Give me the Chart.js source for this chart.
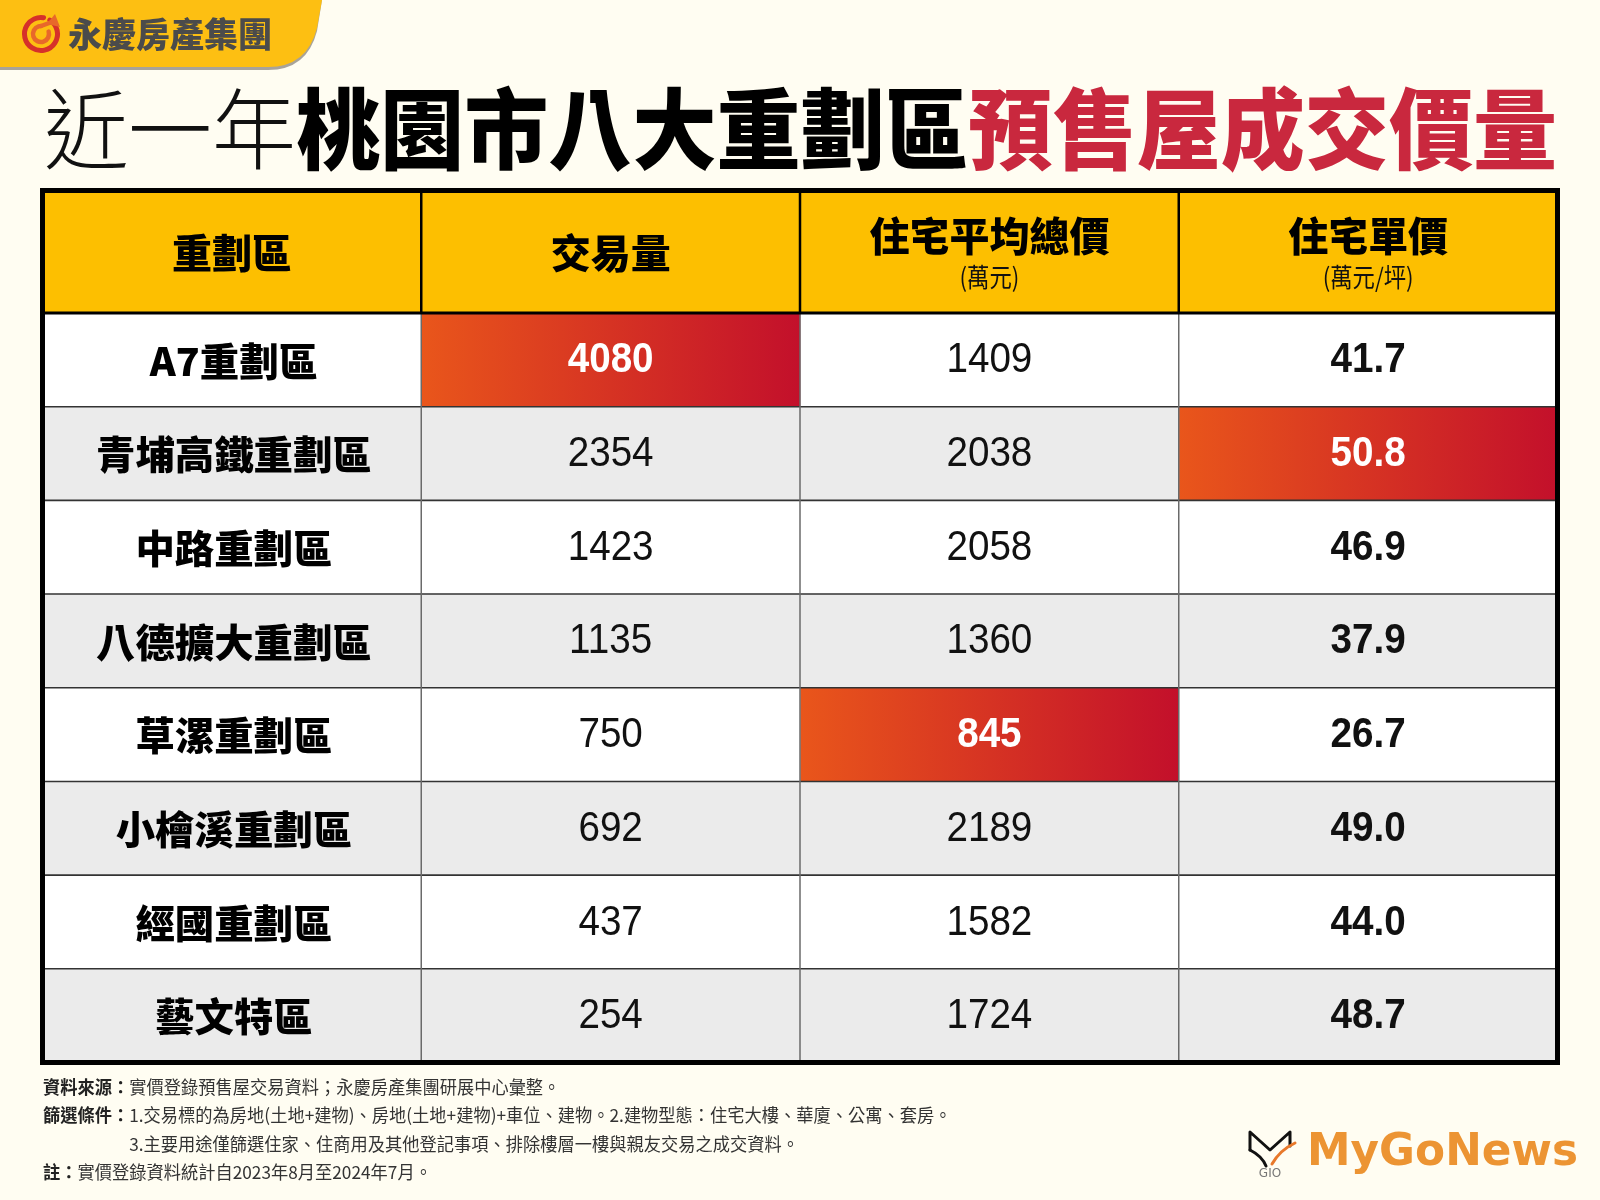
<!DOCTYPE html>
<html>
<head>
<meta charset="utf-8">
<script src="https://cdn.jsdelivr.net/npm/chart.js@4.4.1/dist/chart.umd.min.js"></script>
<style>
  html, body { margin: 0; padding: 0; background: #FFFDF2; }
  #wrap { width: 1600px; height: 1200px; position: relative; }
  canvas { display: block; }
</style>
</head>
<body>
<div id="wrap"><canvas id="c" width="1600" height="1200"></canvas></div>
<script>
// ---------- DATA ----------
const districts = ['A7重劃區', '青埔高鐵重劃區', '中路重劃區', '八德擴大重劃區', '草漯重劃區', '小檜溪重劃區', '經國重劃區', '藝文特區'];
const volume = [4080, 2354, 1423, 1135, 750, 692, 437, 254];
const avgTotalPrice = [1409, 2038, 2058, 1360, 845, 2189, 1582, 1724];
const unitPrice = [41.7, 50.8, 46.9, 37.9, 26.7, 49.0, 44.0, 48.7];
const columnHeaders = ['重劃區', '交易量', '住宅平均總價', '住宅單價'];
const columnUnits = ['', '', '(萬元)', '(萬元/坪)'];
const titleParts = ['近一年', '桃園市八大重劃區', '預售屋成交價量'];
const brandName = '永慶房產集團';
const footnotes = [
  ['資料來源：', '實價登錄預售屋交易資料；永慶房產集團研展中心彙整。'],
  ['篩選條件：', '1.交易標的為房地(土地+建物)、房地(土地+建物)+車位、建物。2.建物型態：住宅大樓、華廈、公寓、套房。'],
  ['', '3.主要用途僅篩選住家、住商用及其他登記事項、排除樓層一樓與親友交易之成交資料。'],
  ['註：', '實價登錄資料統計自2023年8月至2024年7月。']
];
const sourceLogo = 'MyGoNews';

// ---------- DERIVED ----------
const columns = [districts, volume, avgTotalPrice, unitPrice];
const argMax = a => a.indexOf(Math.max(...a));
const argMin = a => a.indexOf(Math.min(...a));
const highlightRows = [-1, argMax(volume), argMin(avgTotalPrice), argMax(unitPrice)];
const formatCell = (c, v) => c === 0 ? v : (c === 3 ? Number(v).toFixed(1) : String(v));

const CJK = '"Noto Sans CJK TC", "Noto Sans CJK SC", sans-serif';
const NUM = '"Liberation Sans", Arial, sans-serif';

function drawText(ctx, text, x, y, font, color, sx, align) {
  ctx.save();
  ctx.font = font;
  ctx.fillStyle = color;
  ctx.textAlign = align || 'center';
  ctx.textBaseline = 'middle';
  ctx.translate(x, y);
  ctx.scale(sx || 1, 1);
  ctx.fillText(text, 0, 0);
  ctx.restore();
}

const decorPlugin = {
  id: 'decor',
  beforeDraw(chart) {
    const ctx = chart.ctx;
    ctx.save();
    ctx.fillStyle = '#FFFDF2';
    ctx.fillRect(0, 0, chart.width, chart.height);

    // banner shadow + banner
    const banner = (dy) => {
      ctx.beginPath();
      ctx.moveTo(0, 0);
      ctx.lineTo(322, 0);
      ctx.lineTo(317, 28 + dy);
      ctx.quadraticCurveTo(307, 67 + dy, 268, 67 + dy);
      ctx.lineTo(0, 67 + dy);
      ctx.closePath();
    };
    ctx.fillStyle = '#A8A39A';
    banner(3); ctx.fill();
    ctx.fillStyle = '#FDBF12';
    banner(0); ctx.fill();

    // brand icon
    ctx.lineCap = 'round';
    ctx.strokeStyle = '#D6302A';
    ctx.lineWidth = 5;
    ctx.beginPath();
    ctx.arc(41, 34, 16.5, -Math.PI * 0.32, Math.PI * 1.55);
    ctx.stroke();
    ctx.strokeStyle = '#E8682A';
    ctx.lineWidth = 4.5;
    ctx.beginPath();
    ctx.arc(41, 34, 8, -Math.PI * 0.1, Math.PI * 1.5, false);
    ctx.stroke();
    ctx.beginPath();
    ctx.moveTo(41, 26);
    ctx.lineTo(52, 22);
    ctx.stroke();
    ctx.fillStyle = '#E8682A';
    ctx.beginPath();
    ctx.moveTo(55, 14); ctx.lineTo(60, 27); ctx.lineTo(47, 24); ctx.closePath();
    ctx.fill();

    // brand name fit into width
    ctx.font = '900 34px ' + CJK;
    const bw = ctx.measureText(brandName).width;
    drawText(ctx, brandName, 68, 34, '900 34px ' + CJK, '#4B4B4B', 204 / bw, 'left');

    // title
    const fonts = ['300 88px ' + CJK, '900 88px ' + CJK, '900 88px ' + CJK];
    const colors = ['#111111', '#000000', '#C9283E'];
    let widths = titleParts.map((t, i) => { ctx.font = fonts[i]; return ctx.measureText(t).width; });
    const total = widths.reduce((a, b) => a + b, 0);
    const sx = 1513 / total;
    let x = 44;
    titleParts.forEach((t, i) => {
      drawText(ctx, t, x, 129, fonts[i], colors[i], sx, 'left');
      x += widths[i] * sx;
    });

    // footnotes
    const fsx = 0.975;
    ctx.font = '700 17.7px ' + CJK;
    const indent = ctx.measureText(footnotes[1][0]).width * fsx;
    const ys = [1087, 1115, 1144, 1172];
    footnotes.forEach((f, i) => {
      let fx = 43;
      if (f[0]) {
        ctx.font = '700 17.7px ' + CJK;
        drawText(ctx, f[0], fx, ys[i], ctx.font, '#222222', fsx, 'left');
        fx += ctx.measureText(f[0]).width * fsx;
      } else {
        fx += indent;
      }
      drawText(ctx, f[1], fx, ys[i], '400 17.7px ' + CJK, '#333333', fsx, 'left');
    });

    // source logo
    ctx.font = 'bold 45px "DejaVu Sans", sans-serif';
    const lw = ctx.measureText(sourceLogo).width;
    const g = ctx.createLinearGradient(0, 1132, 0, 1168);
    g.addColorStop(0, '#EC9433');
    g.addColorStop(0.5, '#DC5E2C');
    g.addColorStop(1, '#BE2A24');
    ctx.save();
    ctx.translate(1307, 1165);
    ctx.scale(271 / lw, 1);
    ctx.fillStyle = g;
    ctx.textBaseline = 'alphabetic';
    ctx.textAlign = 'left';
    ctx.fillText(sourceLogo, 0, 0);
    ctx.restore();
    // logo icon
    ctx.strokeStyle = '#111';
    ctx.lineWidth = 3;
    ctx.lineCap = 'round';
    ctx.lineJoin = 'round';
    ctx.beginPath();
    ctx.moveTo(1250, 1150); ctx.lineTo(1250, 1132); ctx.lineTo(1270, 1150); ctx.lineTo(1290, 1132); ctx.lineTo(1290, 1146);
    ctx.stroke();
    ctx.beginPath();
    ctx.moveTo(1250, 1150); ctx.quadraticCurveTo(1262, 1156, 1266, 1166);
    ctx.stroke();
    ctx.strokeStyle = '#E8782A';
    ctx.lineWidth = 3;
    ctx.beginPath();
    ctx.moveTo(1272, 1164); ctx.quadraticCurveTo(1280, 1150, 1295, 1143);
    ctx.stroke();
    drawText(ctx, 'GIO', 1270, 1174, '12px "DejaVu Sans", sans-serif', '#777', 1, 'center');
    ctx.restore();
  },
  afterDatasetsDraw(chart) {
    const ctx = chart.ctx;
    const xs = chart.scales.x, yScale = chart.scales.y;
    const area = chart.chartArea;
    const headerTop = 190.5;
    const n = districts.length;

    ctx.save();
    // header background
    ctx.fillStyle = '#FDBF00';
    ctx.fillRect(area.left, headerTop, area.right - area.left, area.top - headerTop);
    // header text
    const hc = (headerTop + area.top) / 2;
    columnHeaders.forEach((h, c) => {
      const cx = xs.getPixelForValue(c + 0.5);
      if (columnUnits[c]) {
        drawText(ctx, h, cx, hc - 16, '900 40px ' + CJK, '#000', 1);
        drawText(ctx, columnUnits[c], cx, hc + 25, '400 26px ' + CJK, '#111', 0.86);
      } else {
        drawText(ctx, h, cx, hc + 1, '900 40px ' + CJK, '#000', 1);
      }
    });

    // cell texts
    for (let r = 0; r < n; r++) {
      const cy = yScale.getPixelForValue(r);
      columns.forEach((col, c) => {
        const cx = xs.getPixelForValue(c + 0.5);
        const txt = formatCell(c, col[r]);
        const hi = highlightRows[c] === r;
        if (c === 0) {
          drawText(ctx, txt, cx + 2, cy + 1, '900 39px ' + CJK, '#000', 1.01);
        } else {
          const bold = hi || c === 3;
          drawText(ctx, txt, cx, cy + 1, (bold ? 'bold ' : '') + '42px ' + NUM, hi ? '#FFFFFF' : '#111111', 0.92);
        }
      });
    }

    // body horizontal lines
    ctx.strokeStyle = '#333333';
    ctx.lineWidth = 1.6;
    for (let r = 1; r < n; r++) {
      const y = yScale.getPixelForValue(r - 0.5);
      ctx.beginPath(); ctx.moveTo(area.left, y); ctx.lineTo(area.right, y); ctx.stroke();
    }
    // body vertical lines
    ctx.strokeStyle = '#6A6A6A';
    ctx.lineWidth = 1.5;
    for (let c = 1; c < columns.length; c++) {
      const x = xs.getPixelForValue(c);
      ctx.beginPath(); ctx.moveTo(x, area.top); ctx.lineTo(x, area.bottom); ctx.stroke();
    }
    // header vertical lines
    ctx.strokeStyle = '#000';
    ctx.lineWidth = 2.5;
    for (let c = 1; c < columns.length; c++) {
      const x = xs.getPixelForValue(c);
      ctx.beginPath(); ctx.moveTo(x, headerTop); ctx.lineTo(x, area.top); ctx.stroke();
    }
    // header bottom
    ctx.lineWidth = 3;
    ctx.beginPath(); ctx.moveTo(area.left, area.top); ctx.lineTo(area.right, area.top); ctx.stroke();
    // outer border
    ctx.lineWidth = 5;
    ctx.strokeRect(area.left, headerTop, area.right - area.left, area.bottom - headerTop);
    ctx.restore();
  }
};

const datasets = columns.map((col, c) => ({
  label: columnHeaders[c],
  data: districts.map(() => [c, c + 1]),
  borderWidth: 0,
  borderSkipped: false,
  barPercentage: 1,
  categoryPercentage: 1,
  grouped: false,
  backgroundColor: (ctx) => {
    const r = ctx.dataIndex;
    if (highlightRows[c] === r) {
      const xsc = ctx.chart.scales.x;
      if (!xsc || !ctx.chart.chartArea) return '#DA3322';
      const g = ctx.chart.ctx.createLinearGradient(xsc.getPixelForValue(c), 0, xsc.getPixelForValue(c + 1), 0);
      g.addColorStop(0, '#E9561B');
      g.addColorStop(1, '#C3102B');
      return g;
    }
    return r % 2 ? '#EBEBEB' : '#FFFFFF';
  }
}));

new Chart(document.getElementById('c'), {
  type: 'bar',
  data: { labels: districts, datasets },
  options: {
    responsive: false,
    devicePixelRatio: 1,
    animation: false,
    indexAxis: 'y',
    layout: { padding: { left: 42.5, right: 42.5, top: 313, bottom: 137.5 } },
    plugins: { legend: { display: false }, tooltip: { enabled: false }, title: { display: false } },
    scales: {
      x: { type: 'linear', min: 0, max: 4, display: false },
      y: { type: 'category', display: false, offset: true }
    }
  },
  plugins: [decorPlugin]
});
</script>
</body>
</html>
